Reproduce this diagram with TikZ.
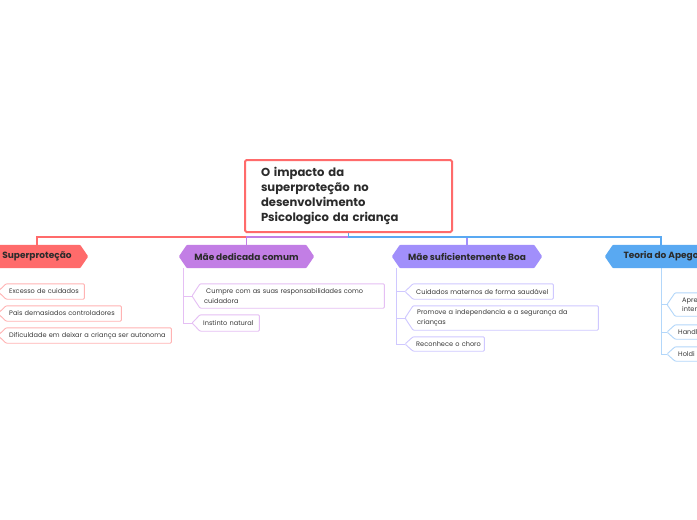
\documentclass[tikz,border=0pt]{standalone}
\usepackage{fontspec}
\setmainfont{Poppins}
\usetikzlibrary{backgrounds}
\definecolor{cred}{HTML}{FF6B6B}
\definecolor{cded}{HTML}{C27EE5}
\definecolor{csuf}{HTML}{A18FFB}
\definecolor{cteo}{HTML}{59A9F2}
\definecolor{credl}{HTML}{FFB3B3}
\definecolor{cdedl}{HTML}{E5BFF4}
\definecolor{csufl}{HTML}{CFC8FF}
\definecolor{cteol}{HTML}{B3D7FA}
\definecolor{ctextc}{HTML}{3A3A3A}
\definecolor{btextc}{HTML}{2B2B2B}
\newcommand\childshape[2]{\draw[cshape,draw=#2] ([xshift=-8pt]#1.west) -- (#1.north west) -- (#1.north east) -- (#1.south east) -- (#1.south west) -- cycle;}
\newcommand\branchshape[2]{\fill[#2, rounded corners=1pt] ([xshift=-8pt]#1.west) -- (#1.north west) -- (#1.north east) -- ([xshift=8pt]#1.east) -- (#1.south east) -- (#1.south west) -- cycle;}
\begin{document}
\begin{tikzpicture}[x=1pt,y=-1pt,
  ctext/.style={font=\fontsize{6.6}{9.5}\selectfont, text=ctextc, align=left, anchor=west, inner xsep=3pt, inner ysep=0pt},
  btext/.style={font=\bfseries\fontsize{9}{11}\selectfont, text=btextc, inner sep=0pt, minimum height=23pt},
  conn/.style={line width=1.2pt},
  cconn/.style={line width=0.9pt},
  cshape/.style={fill=white, line width=0.9pt, rounded corners=1pt},
]
\useasboundingbox (0,0) rectangle (697,520);
\clip (0,0) rectangle (697,520);
% main topic
\node[draw=cred, line width=2pt, rounded corners=1.5pt, minimum width=207pt, minimum height=72pt, text width=175pt, inner xsep=16pt, align=left, font=\bfseries\fontsize{11.6}{15}\selectfont, text=btextc] (main) at (348.5,196) {O impacto da\\superproteção no\\desenvolvimento\\Psicologico da criança};
% branches
\node[btext, minimum width=86pt] (sup) at (37,256.5) {Superproteção};
\node[btext, minimum width=119pt] (ded) at (246.5,256.5) {Mãe dedicada comum};
\node[btext, minimum width=134pt] (suf) at (467,256.5) {Mãe suficientemente Boa};
\node[btext, minimum width=96pt] (teo) at (661,256.5) {Teoria do Apego};
% children
\node[ctext, text width=72pt, minimum height=15pt] (c11) at (6,291.5) {\mbox{Excesso de cuidados}};
\node[ctext, text width=109pt, minimum height=15pt] (c12) at (6,313.5) {\mbox{Pais demasiados controladores}};
\node[ctext, text width=159pt, minimum height=15pt] (c13) at (6,335.5) {\mbox{Dificuldade em deixar a criança ser autonoma}};
\node[ctext, text width=176pt, minimum height=24pt, inner xsep=4pt] (c21) at (200,296) {\mbox{\hspace{2pt}Cumpre com as suas responsabilidades como}\\\mbox{cuidadora}};
\node[ctext, text width=53pt, minimum height=16pt] (c22) at (200,323) {\mbox{Instinto natural}};
\node[ctext, text width=134pt, minimum height=15pt] (c31) at (413,291.5) {\mbox{Cuidados maternos de forma saudável}};
\node[ctext, text width=177pt, minimum height=24pt, inner xsep=4pt] (c32) at (413,318) {\mbox{Promove a independencia e a segurança da}\\\mbox{crianças}};
\node[ctext, text width=65pt, minimum height=14pt] (c33) at (413,344) {\mbox{Reconhece o choro}};
\node[ctext, text width=50pt, minimum height=23pt, inner xsep=7pt] (c41) at (675,304.5) {Apre\\inter};
\node[ctext, text width=54pt, minimum height=14pt] (c42) at (675,332) {Handl};
\node[ctext, text width=54pt, minimum height=14pt] (c43) at (675,354) {Holdi};
\begin{pgfonlayer}{background}
\clip (0,0) rectangle (697,520);
\fill[white] (0,0) rectangle (697,520);
% main connectors
\draw[conn, cred] (main.south) -- ++(0,4) -| (sup.north);
\draw[conn, csuf] (main.south) -- ++(0,4) -| (suf.north);
\draw[conn, cded] (main.south) -- ++(0,4) -| (ded.north);
\draw[conn, cteo] (main.south) -- ++(0,4) -| (teo.north);
% child connectors
\draw[cconn, cdedl] ([xshift=-3pt]ded.south west) |- ([xshift=-8pt]c21.west);
\draw[cconn, cdedl] ([xshift=-3pt]ded.south west) |- ([xshift=-8pt]c22.west);
\draw[cconn, csufl] ([xshift=-3pt]suf.south west) |- ([xshift=-8pt]c31.west);
\draw[cconn, csufl] ([xshift=-3pt]suf.south west) |- ([xshift=-8pt]c32.west);
\draw[cconn, csufl] ([xshift=-3pt]suf.south west) |- ([xshift=-8pt]c33.west);
\draw[cconn, cteol] (teo.south) |- ([xshift=-8pt]c41.west);
\draw[cconn, cteol] (teo.south) |- ([xshift=-8pt]c42.west);
\draw[cconn, cteol] (teo.south) |- ([xshift=-8pt]c43.west);
% shapes
\branchshape{sup}{cred}
\branchshape{ded}{cded}
\branchshape{suf}{csuf}
\branchshape{teo}{cteo}
\childshape{c11}{credl}
\childshape{c12}{credl}
\childshape{c13}{credl}
\childshape{c21}{cdedl}
\childshape{c22}{cdedl}
\childshape{c31}{csufl}
\childshape{c32}{csufl}
\childshape{c33}{csufl}
\childshape{c41}{cteol}
\childshape{c42}{cteol}
\childshape{c43}{cteol}
\end{pgfonlayer}
\end{tikzpicture}
\end{document}
